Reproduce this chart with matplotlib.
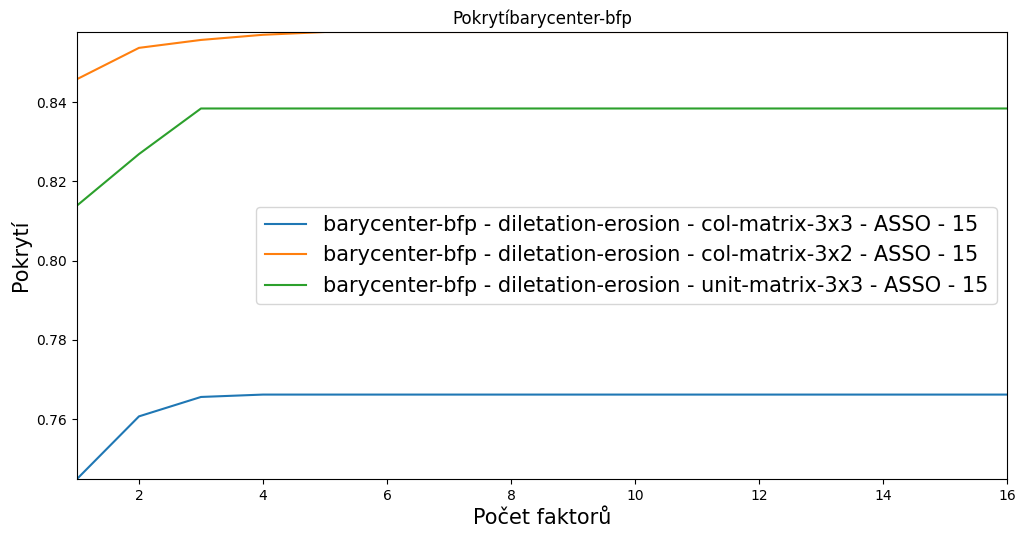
import numpy as np
import matplotlib
matplotlib.use("Agg")
import matplotlib.pyplot as plt

factors = list(range(1, 17))
col_3x3 = [0.7449, 0.7607, 0.7656, 0.7662] + [0.7662] * 12
col_3x2 = [0.8458, 0.8537, 0.8557, 0.8570] + [0.8577] * 12
unit_3x3 = [0.8139, 0.8269, 0.8384] + [0.8384] * 13

labels = [
    "barycenter-bfp - diletation-erosion - col-matrix-3x3 - ASSO - 15",
    "barycenter-bfp - diletation-erosion - col-matrix-3x2 - ASSO - 15",
    "barycenter-bfp - diletation-erosion - unit-matrix-3x3 - ASSO - 15",
]

fig, ax = plt.subplots(figsize=(10.25, 5.38), dpi=100)
fig.subplots_adjust(left=0.0751, right=0.9824, top=0.9405, bottom=0.1097)

for ys, lab in zip([col_3x3, col_3x2, unit_3x3], labels):
    ax.plot(factors, ys, label=lab)

allv = np.concatenate([col_3x3, col_3x2, unit_3x3])
ax.set_xlim(1, 16)
ax.set_ylim(allv.min(), allv.max())
ax.set_title("Pokrytíbarycenter-bfp")
ax.set_xlabel("Počet faktorů", fontsize=15)
ax.set_ylabel("Pokrytí", fontsize=15)
ax.legend(loc="center right", fontsize=15)

fig.savefig("out.png")
